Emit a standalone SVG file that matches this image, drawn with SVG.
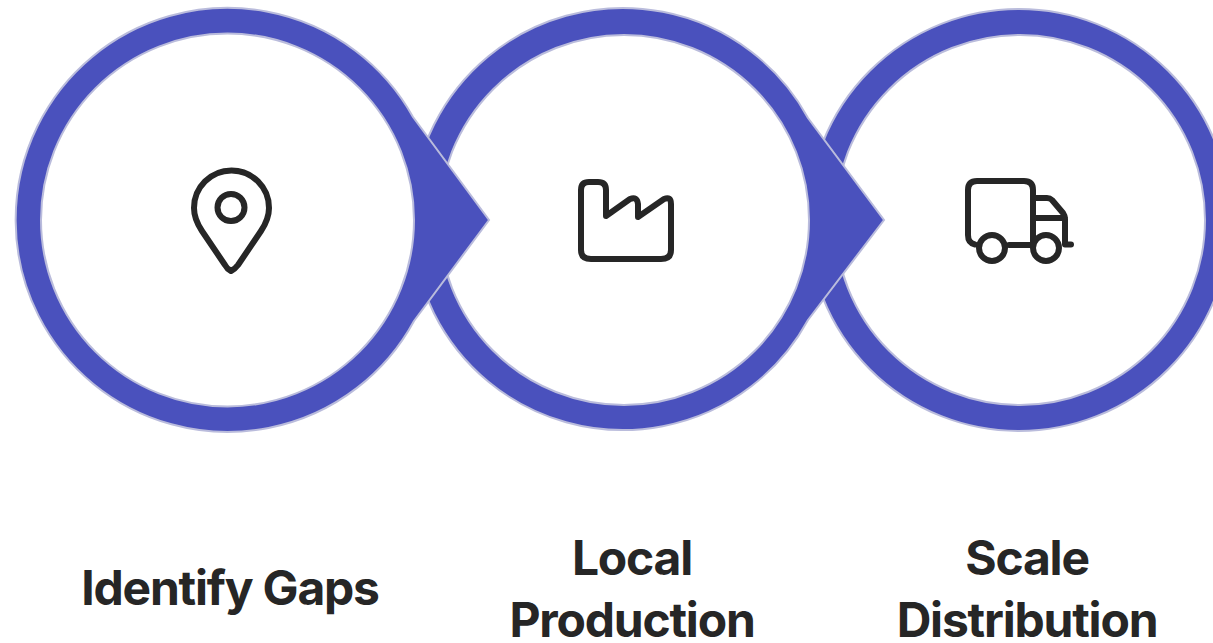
<svg xmlns="http://www.w3.org/2000/svg" width="1213" height="643" viewBox="0 0 1213 643">
<style>
.shape{fill:#4a51bd;stroke:#babcdc;stroke-width:2}
.hole{fill:#fff;stroke:#babcdc;stroke-width:2}
.icon{fill:none;stroke:#262626;stroke-width:6;stroke-linecap:round;stroke-linejoin:round}
.label{font-family:Inter,"Liberation Sans",sans-serif;font-weight:700;font-size:48px;fill:#262626;text-anchor:middle;letter-spacing:-1.2px}
</style>
<rect width="1213" height="643" fill="#fff"/>
<g id="connectors"></g>
<g id="node-scale-distribution">
<circle class="shape" cx="1019" cy="220" r="211"/>
<circle class="hole" cx="1020" cy="220" r="185"/>
<g class="icon">
<path d="M1033 245H1009M975 244.500Q968 243 968 235V190Q968 181 977 181H1024Q1033 181 1033 190V245M1033 198H1047Q1050 198 1052 200L1063 213Q1065 216 1065 219V244.500H1071M1033 218H1065"/>
<circle cx="992" cy="248" r="13"/>
<circle cx="1046" cy="248" r="13"/>
</g>
<text class="label" x="1027" y="574.500">Scale</text>
<text class="label" x="1027" y="636.500">Distribution</text>
</g>
<g id="node-local-production">
<path class="shape" d="M808 118A211 211 0 1 0 808 320L884 220Z"/>
<circle class="hole" cx="624" cy="220" r="185"/>
<path class="icon" d="M581 190Q581 182 589 182H598Q606 182 606 190V216L630 199Q637 196 638 204V217L664 199Q671 196 671 204V250Q671 259 661 259H591Q581 259 581 250Z"/>
<text class="label" x="632" y="574.500">Local</text>
<text class="label" x="632" y="636.500">Production</text>
</g>
<g id="node-identify-gaps">
<path class="shape" d="M413 117A212 212 0 1 0 414 321L489 220Z"/>
<circle class="hole" cx="227.500" cy="220" r="186.500"/>
<g class="icon">
<path d="M231 271Q227 269 225 265L202 231Q194 219 194 208A37.500 37.500 0 0 1 269 208Q269 219 261 231L238 265Q235 269 231 271Z"/>
<circle cx="231" cy="207.500" r="13.500"/>
</g>
<text class="label" x="230" y="604.500">Identify Gaps</text>
</g>
</svg>
